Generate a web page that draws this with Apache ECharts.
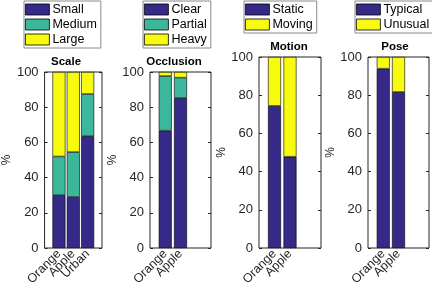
<!DOCTYPE html>
<html>
<head>
<meta charset="utf-8">
<script src="https://cdn.jsdelivr.net/npm/echarts@6/dist/echarts.min.js"></script>
<style>html,body{margin:0;padding:0;background:#fff}#c{width:432px;height:292px}</style>
</head>
<body>
<div id="c"></div>
<script>
// ---- data ----
const yTicks = [0, 20, 40, 60, 80, 100];
const scaleCats = ['Orange', 'Apple', 'Urban'];
const scaleSeriesNames = ['Small', 'Medium', 'Large'];
const scaleSmall = [30, 29, 63.5];
const scaleMedium = [22, 25.5, 24];
const scaleLarge = [48, 45.5, 12.5];

const occCats = ['Orange', 'Apple'];
const occSeriesNames = ['Clear', 'Partial', 'Heavy'];
const occClear = [66.7, 85.2];
const occPartial = [31, 11.6];
const occHeavy = [2.3, 3.2];

const motionCats = ['Orange', 'Apple'];
const motionSeriesNames = ['Static', 'Moving'];
const motionStatic = [74.4, 47.8];
const motionMoving = [25.6, 52.2];

const poseCats = ['Orange', 'Apple'];
const poseSeriesNames = ['Typical', 'Unusual'];
const poseTypical = [93.9, 81.7];
const poseUnusual = [6.1, 18.3];

const panelTitles = ['Scale', 'Occlusion', 'Motion', 'Pose'];

// ---- build ----
const NAVY = '#352A87', TEAL = '#3BB89C', YEL = '#F9FB0E';
const FONT = 'Liberation Sans';
const AX = '#262626';

// x axis spans 0..4 with bars at 1,2,3 (MATLAB xlim [0 4])
function padCats(c) { const a = ['']; for (let i = 0; i < 3; i++) a.push(c[i] || ''); a.push(''); return a; }
function padVals(v) { const a = ['-']; for (let i = 0; i < 3; i++) a.push(v[i] === undefined ? '-' : v[i]); a.push('-'); return a; }

const panels = [
  { cats: scaleCats, names: scaleSeriesNames, vals: [scaleSmall, scaleMedium, scaleLarge], colors: [NAVY, TEAL, YEL],
    grid: { left: 41, top: 72, width: 61, height: 176 },
    legend: { left: 24, top: 1 }, title: [66, 62] },
  { cats: occCats, names: occSeriesNames, vals: [occClear, occPartial, occHeavy], colors: [NAVY, TEAL, YEL],
    grid: { left: 150, top: 72, width: 61, height: 176 },
    legend: { left: 143, top: 1 }, title: [174, 62] },
  { cats: motionCats, names: motionSeriesNames, vals: [motionStatic, motionMoving], colors: [NAVY, YEL],
    grid: { left: 259, top: 57, width: 62, height: 191 },
    legend: { left: 244, top: 1 }, title: [289, 47] },
  { cats: poseCats, names: poseSeriesNames, vals: [poseTypical, poseUnusual], colors: [NAVY, YEL],
    grid: { left: 368, top: 57, width: 61, height: 191 },
    legend: { left: 355, top: 1 }, title: [395, 47] }
];

const grid = [], xAxis = [], yAxis = [], series = [], legend = [], graphic = [];
panels.forEach((p, i) => {
  grid.push(Object.assign({ show: true, borderColor: AX, borderWidth: 1, backgroundColor: '#fff' }, p.grid));
  xAxis.push({
    type: 'category', gridIndex: i, data: padCats(p.cats), boundaryGap: false,
    axisLine: { show: false }, axisTick: { show: false }, splitLine: { show: false },
    axisLabel: { interval: 0, rotate: 45, fontSize: 12.5, fontFamily: FONT, color: AX, margin: 4 }
  });
  const yBase = {
    type: 'value', gridIndex: i, min: yTicks[0], max: yTicks[yTicks.length - 1], interval: yTicks[1] - yTicks[0],
    axisLine: { show: false }, splitLine: { show: false },
    axisTick: { show: true, inside: true, length: 3, lineStyle: { color: AX } }
  };
  yAxis.push(Object.assign({}, yBase, {
    position: 'left', name: '%', nameLocation: 'middle', nameGap: 31,
    nameTextStyle: { fontSize: 12, fontFamily: FONT, color: AX },
    axisLabel: { fontSize: 13, fontFamily: FONT, color: AX, margin: 6 }
  }));
  yAxis.push(Object.assign({}, yBase, { position: 'right', axisLabel: { show: false } }));
  p.names.forEach((n, k) => {
    series.push({
      type: 'bar', name: n, xAxisIndex: i, yAxisIndex: 2 * i, stack: 'p' + i,
      data: padVals(p.vals[k]), barWidth: 13,
      itemStyle: { color: p.colors[k], borderColor: '#000', borderWidth: 0.6 },
      emphasis: { disabled: true }, animation: false
    });
  });
  legend.push({
    data: p.names, orient: 'vertical', left: p.legend.left, top: p.legend.top,
    icon: 'rect', itemWidth: 24, itemHeight: 11, itemGap: 2,
    padding: [2, 4, 2, 1], borderColor: '#8a8a8a', borderWidth: 1, backgroundColor: '#fff',
    itemStyle: { borderColor: '#000', borderWidth: 0.8 },
    textStyle: { fontSize: 12.5, fontFamily: FONT, color: '#000', padding: [0, 0, 0, -2] },
    selectedMode: false
  });
  graphic.push({
    type: 'text', x: p.title[0], y: p.title[1],
    style: { text: panelTitles[i], align: 'center', verticalAlign: 'middle',
             font: 'bold 11.5px "Liberation Sans"', fill: '#000' }
  });
});

const chart = echarts.init(document.getElementById('c'), null, { renderer: 'canvas' });
chart.setOption({ animation: false, backgroundColor: '#fff', grid, xAxis, yAxis, series, legend, graphic });
</script>
</body>
</html>
